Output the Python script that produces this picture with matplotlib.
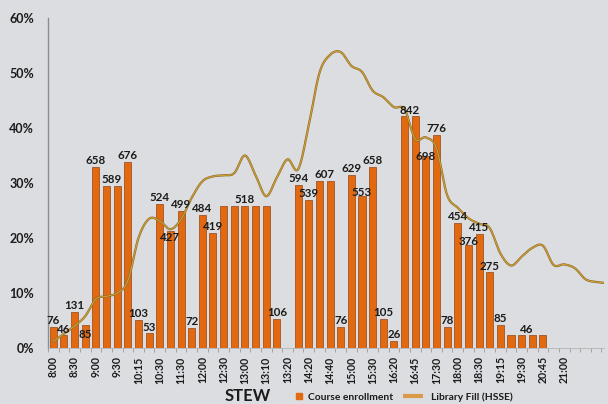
import numpy as np
import matplotlib
matplotlib.use('Agg')
import matplotlib.pyplot as plt
from matplotlib.lines import Line2D
import matplotlib.patheffects as pe

# ---------------- data ----------------
tick_labels = ["8:00", "8:30", "9:00", "9:30", "10:15", "10:30", "11:30", "12:00",
               "12:30", "13:00", "13:10", "13:20", "14:20", "14:40", "15:00", "15:30",
               "16:20", "16:45", "17:30", "18:00", "18:30", "19:15", "19:30", "20:45",
               "21:00"]

# course enrollment per time slot (None = no course)
enrollment = [76, 46, 131, 85, 658, 589, 589, 676, 103, 53,
              524, 427, 499, 72, 484, 419, 518, 518, 518, 518,
              518, 106, None, 594, 539, 607, 607, 76, 629, 553,
              658, 105, 26, 842, 842, 698, 776, 78, 454, 376,
              415, 275, 85, 46, 46, 46, 46, None, None, None,
              None, None]
enroll_full = 2000  # enrollment that corresponds to 100 %

# library fill (HSSE), percent, per time slot
library_fill = [1.2, 2.6, 4.0, 5.8, 8.9, 9.4, 10.0, 12.2, 20.0, 23.5,
                23.1, 21.6, 23.4, 27.3, 30.3, 31.2, 31.4, 31.8, 35.0, 31.4,
                27.6, 31.0, 34.3, 32.5, 40.5, 50.0, 53.3, 53.8, 51.3, 50.2,
                46.8, 45.6, 43.8, 43.4, 38.0, 38.3, 36.3, 27.8, 25.5, 23.6,
                22.6, 21.8, 17.2, 15.0, 16.6, 18.2, 18.6, 15.1, 15.2, 14.5,
                12.5, 12.0, 11.8]

# ---------------- style ----------------
BG = '#DCDDE0'
BAR = '#E2690F'
BAR_EDGE = '#9E5526'
LINE = '#CFA03A'
TXT = '#1b1b1b'
plt.rcParams['font.family'] = ['Lato', 'DejaVu Sans']

# label vertical offsets (points) for crowded labels
label_dy = {3: -7, 11: -5, 29: 2.5, 35: 0, 39: 2}


def catmull_rom(y, n=24):
    y = np.asarray(y, float)
    p = np.concatenate([[2 * y[0] - y[1]], y, [2 * y[-1] - y[-2]]])
    xs, ys = [], []
    t = np.linspace(0, 1, n, endpoint=False)
    for i in range(len(y) - 1):
        p0, p1, p2, p3 = p[i], p[i + 1], p[i + 2], p[i + 3]
        v = 0.5 * (2 * p1 + (-p0 + p2) * t + (2 * p0 - 5 * p1 + 4 * p2 - p3) * t ** 2
                   + (-p0 + 3 * p1 - 3 * p2 + p3) * t ** 3)
        xs.append(i + t)
        ys.append(v)
    xs.append([len(y) - 1])
    ys.append([y[-1]])
    return np.concatenate(xs), np.concatenate(ys)


fig = plt.figure(figsize=(6.08, 4.04), dpi=100, facecolor=BG)
ax = fig.add_axes([48 / 608, 1 - 348 / 404, 555.6 / 608, 330 / 404])
ax.set_facecolor(BG)

n = len(enrollment)
x = np.arange(n)
heights = np.array([0 if v is None else v / enroll_full for v in enrollment])
mask = np.array([v is not None for v in enrollment])
ax.bar(x[mask], heights[mask], width=0.66, color=BAR, edgecolor=BAR_EDGE,
       linewidth=0.6, zorder=2)

# line
lx, ly = catmull_rom(library_fill)
ax.plot(lx, ly / 100, color=LINE, lw=0.8, zorder=3,
        path_effects=[pe.Stroke(linewidth=1.6, foreground='#8B6A22'), pe.Normal()])

# data labels (one per run of equal values, centred on the run)
i = 0
while i < n:
    v = enrollment[i]
    if v is None:
        i += 1
        continue
    j = i
    while j + 1 < n and enrollment[j + 1] == v:
        j += 1
    xc = (i + j) / 2
    dy = label_dy.get(i, 4.5)
    ax.annotate(str(v), (xc, v / enroll_full), xytext=(0, dy), textcoords='offset points',
                ha='center', va='center', fontsize=8.3, fontweight='bold', color=TXT,
                zorder=4)
    i = j + 1

ax.set_ylim(0, 0.6)
ax.set_xlim(-0.47, 51.7)
ax.set_yticks(np.arange(0, 0.61, 0.1))
ax.set_yticklabels([f"{int(round(t * 100))}%" for t in np.arange(0, 0.61, 0.1)],
                   fontsize=9, fontweight='bold', color=TXT)
ax.set_xticks(np.arange(0, 2 * len(tick_labels), 2))
ax.set_xticklabels(tick_labels, rotation=90, fontsize=7.6, fontweight='bold', color=TXT)
ax.set_xticks(np.arange(-0.5, n, 1), minor=True)
ax.tick_params(axis='x', which='major', length=0, pad=6)
ax.tick_params(axis='x', which='minor', length=3, width=0.6, color='#9a9a9a')
ax.tick_params(axis='y', length=0, pad=10)

for s in ['top', 'right']:
    ax.spines[s].set_visible(False)
ax.spines['left'].set_color('#8c8c8c')
ax.spines['left'].set_linewidth(1.0)
ax.spines['bottom'].set_color('#b4b4b4')
ax.spines['bottom'].set_linewidth(0.6)

fig.text(248 / 608, 1 - 396 / 404, 'STEW', ha='center', va='center', fontsize=12,
         fontweight='bold', color=TXT)

leg1 = fig.legend(handles=[Line2D([], [], marker='s', ls='none', color=BAR, markersize=5)],
                  labels=['Course enrollment'], loc='center left',
                  bbox_to_anchor=(294.6 / 608, 1 - 397 / 404), frameon=False,
                  handlelength=0.8, handletextpad=0.55, borderpad=0, borderaxespad=0,
                  prop={'size': 7.4, 'weight': 'bold'})
for t in leg1.get_texts():
    t.set_color(TXT)
leg2 = fig.legend(handles=[Line2D([], [], color='#D99A4A', lw=3, solid_capstyle='butt')],
                  labels=['Library Fill (HSSE)'], loc='center left',
                  bbox_to_anchor=(403 / 608, 1 - 397 / 404), frameon=False,
                  handlelength=1.95, handletextpad=0.78, borderpad=0, borderaxespad=0,
                  prop={'size': 7.4, 'weight': 'bold'})
for t in leg2.get_texts():
    t.set_color(TXT)

fig.savefig('out.png', dpi=100, facecolor=BG)
